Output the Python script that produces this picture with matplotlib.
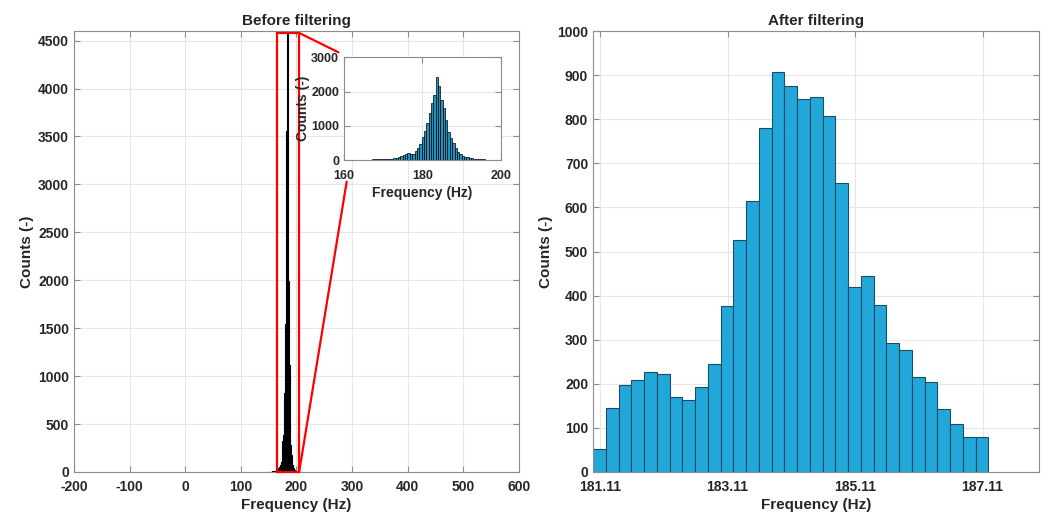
import numpy as np
import matplotlib
matplotlib.use("Agg")
import matplotlib.pyplot as plt
from matplotlib.patches import Rectangle, ConnectionPatch

plt.rcParams['font.family'] = ['Liberation Sans', 'DejaVu Sans']
plt.rcParams['font.weight'] = 'bold'
plt.rcParams['axes.unicode_minus'] = False

# zoomed histogram of the raw frequencies, 0.6 Hz bins starting at 160 Hz
raw_bin_start = 160.0
raw_bin_width = 0.6
raw_counts = [3, 4, 4, 5, 6, 6, 7, 8, 9, 10, 12, 14, 16, 18, 20, 22, 25, 28, 32, 36, 42, 50,
              58, 80, 105, 150, 175, 195, 190, 175,
              263, 360, 467, 682, 857, 1090, 1363, 1655, 1899,
              2415, 2170, 1753, 1509, 1168, 828, 633, 487, 341,
              243, 165, 117, 95, 78, 62, 49, 40, 32, 25, 20, 15, 12, 10, 8, 6, 5, 4]

# coarse 1.2 Hz bins of the full raw range: tails outside the zoomed window
tail_left = [2, 2, 3, 3, 4, 4, 5, 5, 6, 7, 8, 8]
tail_right = [8, 6, 5, 4, 3, 3, 2, 2, 1, 1, 1]

# filtered frequencies, 0.2 Hz bins starting at 181.0 Hz
filt_bin_start = 181.0
filt_bin_width = 0.2
filt_counts = [52, 145, 198, 208, 226, 223, 170, 164, 193, 245,
               377, 527, 614, 779, 908, 875, 845, 851, 808, 655,
               420, 445, 378, 292, 276, 216, 205, 142, 109, 79, 80]
filt_ticks = [181.11, 183.11, 185.11, 187.11]

zoom_box = (166, 205, 4580)   # x0, x1, height of the red box

txt = '#262626'
frame = '#8c8c8c'
bar_face = '#22a7da'


def style_axes(ax, tick_size=10, xpad=6):
    ax.grid(True, color='#e6e6e6', linewidth=0.8)
    ax.set_axisbelow(True)
    for s in ax.spines.values():
        s.set_color(frame)
        s.set_linewidth(0.8)
    ax.tick_params(direction='in', top=True, right=True, length=4,
                   color=frame, labelsize=tick_size, labelcolor=txt, width=0.8)
    ax.tick_params(axis='x', pad=xpad)
    for lab in ax.get_xticklabels() + ax.get_yticklabels():
        lab.set_fontweight('bold')


fig = plt.figure(figsize=(10.45, 5.15), dpi=100)
ax1 = fig.add_axes([0.0708, 0.0835, 0.4256, 0.8563])
ax2 = fig.add_axes([0.5675, 0.0835, 0.4271, 0.8563])

# --- before filtering ---
raw_counts = np.array(raw_counts)
coarse = np.add.reduceat(raw_counts[1:65], np.arange(0, 64, 2))
coarse_start = raw_bin_start + raw_bin_width
coarse_w = 2 * raw_bin_width
all_counts = np.concatenate([tail_left, coarse, tail_right])
left_start = coarse_start - coarse_w * len(tail_left)
edges = left_start + coarse_w * np.arange(len(all_counts) + 1)
ax1.stairs(all_counts, edges, fill=True, color='black', linewidth=0.8)
ax1.stairs(all_counts, edges, color='black', linewidth=0.8)
ax1.set_xlim(-200, 600)
ax1.set_ylim(0, 4600)
ax1.set_xticks(np.arange(-200, 601, 100))
ax1.set_yticks(np.arange(0, 4501, 500))
ax1.set_xlabel('Frequency (Hz)', fontsize=11, color=txt, fontweight='bold', labelpad=3)
ax1.set_ylabel('Counts (-)', fontsize=11, color=txt, fontweight='bold', labelpad=3)
ax1.set_title('Before filtering', fontsize=11, color=txt, fontweight='bold', pad=4)
style_axes(ax1)

x0, x1, h = zoom_box
ax1.add_patch(Rectangle((x0, 0), x1 - x0, h, fill=False, edgecolor='red',
                        linewidth=1.6, zorder=5, clip_on=False))

# inset
axin = fig.add_axes([0.3292, 0.6893, 0.15, 0.1994])
in_edges = raw_bin_start + raw_bin_width * np.arange(len(raw_counts))
axin.bar(in_edges, raw_counts, width=raw_bin_width, align='edge', color='#1d93c4',
         edgecolor='black', linewidth=0.5)
axin.set_xlim(160, 200)
axin.set_ylim(0, 3000)
axin.set_xticks([160, 180, 200])
axin.set_yticks([0, 1000, 2000, 3000])
axin.set_xlabel('Frequency (Hz)', fontsize=10, color=txt, fontweight='bold', labelpad=3)
axin.set_ylabel('Counts (-)', fontsize=10, color=txt, fontweight='bold', labelpad=1)
style_axes(axin, tick_size=9, xpad=7)

for xy_main, xy_in in [((x1, h), (-0.036, 1.049)), ((x1, 0), (0.017, -0.211))]:
    con = ConnectionPatch(xyA=xy_main, coordsA=ax1.transData,
                          xyB=xy_in, coordsB=axin.transAxes,
                          color='red', linewidth=1.6, zorder=6)
    fig.add_artist(con)

# --- after filtering ---
f_edges = filt_bin_start + filt_bin_width * np.arange(len(filt_counts))
ax2.bar(f_edges, filt_counts, width=filt_bin_width, align='edge', color=bar_face,
        edgecolor='#1b4d63', linewidth=0.8)
ax2.set_xlim(181.0, 188.0)
ax2.set_ylim(0, 1000)
ax2.set_xticks(filt_ticks)
ax2.set_xticklabels([f'{t:.2f}' for t in filt_ticks])
ax2.set_yticks(np.arange(0, 1001, 100))
ax2.set_xlabel('Frequency (Hz)', fontsize=11, color=txt, fontweight='bold', labelpad=3)
ax2.set_ylabel('Counts (-)', fontsize=11, color=txt, fontweight='bold', labelpad=3)
ax2.set_title('After filtering', fontsize=11, color=txt, fontweight='bold', pad=4)
style_axes(ax2)

fig.savefig('out.png', dpi=100, facecolor='white')
